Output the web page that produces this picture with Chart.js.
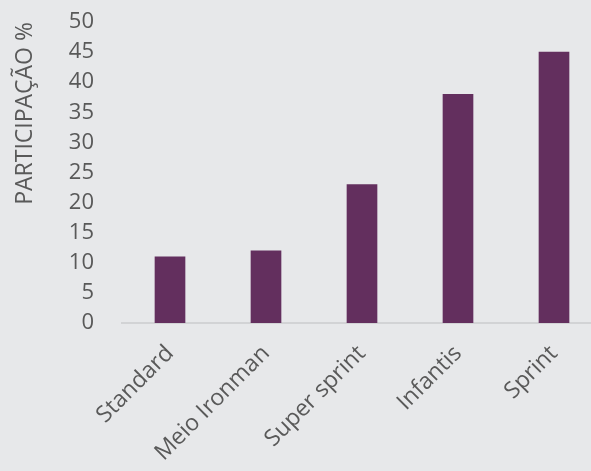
<!DOCTYPE html>
<html>
<head>
<meta charset="utf-8">
<script src="https://cdn.jsdelivr.net/npm/chart.js@4/dist/chart.umd.min.js"></script>
<style>
    html, body { margin: 0; padding: 0; background: #e7e8ea; overflow: hidden; }
    #wrap { width: 602px; height: 471px; }
</style>
</head>
<body>
<div id="wrap"><canvas id="grafico"></canvas></div>
<script>
// Dados
const categorias = ['Standard', 'Meio Ironman', 'Super sprint', 'Infantis', 'Sprint'];
const participacao = [11, 12, 23, 38, 45];
const tituloY = 'PARTICIPAÇÃO %';

const corTexto = '#595959';
const fonte = '"Open Sans", "DejaVu Sans", sans-serif';

new Chart(document.getElementById('grafico'), {
    type: 'bar',
    data: {
        labels: categorias,
        datasets: [{
            data: participacao,
            backgroundColor: '#632f5e',
            barThickness: 30
        }]
    },
    options: {
        responsive: true,
        maintainAspectRatio: false,
        animation: false,
        layout: { padding: { top: 22, right: 0, left: 0, bottom: 0 } },
        plugins: {
            legend: { display: false },
            tooltip: { enabled: false }
        },
        scales: {
            x: {
                grid: { display: false, drawTicks: false },
                border: { display: true, color: '#d2d3d5', width: 2 },
                ticks: {
                    color: corTexto,
                    font: { family: fonte, size: 23 },
                    minRotation: 45,
                    maxRotation: 45,
                    autoSkip: false,
                    padding: 17
                },
                afterFit: function(scale) {
                    scale.height = 148;
                    scale.paddingTop = 0;
                }
            },
            y: {
                min: 0,
                max: 50,
                grid: { display: false, drawTicks: false },
                border: { display: false },
                ticks: {
                    stepSize: 5,
                    autoSkip: false,
                    color: corTexto,
                    font: { family: fonte, size: 22 },
                    padding: 28
                },
                title: {
                    display: true,
                    text: tituloY,
                    align: 'end',
                    color: corTexto,
                    font: { family: fonte, size: 23 },
                    padding: { top: 12, bottom: 0 }
                },
                afterFit: function(scale) {
                    scale.width = 122;
                    scale.paddingTop = 0;
                }
            }
        }
    }
});
</script>
</body>
</html>
